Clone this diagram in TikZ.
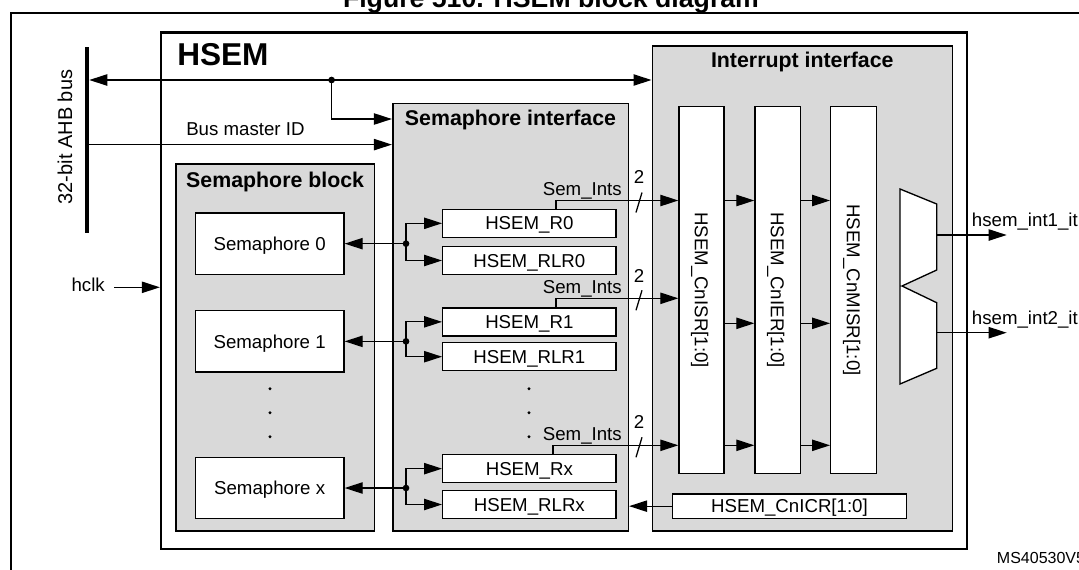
\documentclass[tikz,border=0pt]{standalone}
\usepackage{fontspec}
\setmainfont{Liberation Sans}
\usetikzlibrary{arrows.meta}
\definecolor{panel}{RGB}{217,217,217}
\begin{document}
\begin{tikzpicture}[x=0.75pt,y=-0.75pt,
  wh/.style 2 args={minimum width=#1*0.75pt,minimum height=#2*0.75pt},
  panelbox/.style={draw,line width=1.2pt,fill=panel,inner sep=0pt},
  regbox/.style={draw,line width=1pt,fill=white,inner sep=0pt,font=\fontsize{14}{16}\selectfont,text height=10pt,text depth=0pt},
  lbl/.style={inner sep=0pt,font=\fontsize{14}{16}\selectfont},
  hd/.style={inner sep=0pt,font=\bfseries\fontsize{16}{18}\selectfont,anchor=base},
  wire/.style={line width=0.95pt},
  arr/.style={wire,-{Triangle[length=13.5pt,width=8.5pt]}},
  darr/.style={wire,{Triangle[length=13.5pt,width=8.5pt]}-{Triangle[length=13.5pt,width=8.5pt]}},
  jdot/.style={fill,circle,inner sep=0pt,minimum size=5pt}
]
\useasboundingbox (0,0) rectangle (1079,569);
\clip (0,0) rectangle (1079,569);

% title and outer frame
\node[inner sep=0pt,anchor=base,font=\bfseries\fontsize{20}{24}\selectfont] (title) at (551,7.5) {Figure 510. HSEM block diagram};
\node[draw,line width=1.5pt,wh={1090}{600},anchor=north west,inner sep=0pt] (frame) at (9.5,11.5) {};

% HSEM block
\node[draw,line width=1.7pt,fill=white,wh={805.7}{516.5},inner sep=0pt] (hsem) at (563.85,290.75) {};
\node[anchor=base west,inner sep=0pt,font=\bfseries\fontsize{23.7}{28}\selectfont] (hsemlbl) at (177,65.4) {HSEM};

% AHB bus
\node[fill,inner sep=0pt,wh={4}{186}] (bus) at (87,140) {};
\node[lbl,rotate=90,font=\fontsize{15}{18}\selectfont] (buslbl) at (65,137) {32-bit AHB bus};

% panels
\node[panelbox,wh={198.3}{366.7}] (semblk) at (275.15,347.35) {};
\node[hd] (semblkl) at (275.15,187) {Semaphore block};
\node[panelbox,wh={235.6}{427.5}] (semif) at (510.5,317.25) {};
\node[hd] (semifl) at (510.5,125) {Semaphore interface};
\node[panelbox,wh={300}{484.7}] (intif) at (802.3,288.35) {};
\node[hd] (intifl) at (802.3,67.3) {Interrupt interface};

% semaphores
\node[regbox,wh={148.7}{61.3}] (s0) at (269.65,243.65) {Semaphore 0};
\node[regbox,wh={148.7}{61.3}] (s1) at (269.65,341.35) {Semaphore 1};
\node[regbox,wh={148.7}{61.3}] (sx) at (269.65,488) {Semaphore x};
\foreach \y in {388.7,412.7,436.7} {
  \fill (270,\y) circle[radius=1.2pt];
  \fill (529,\y) circle[radius=1.2pt];
}

% semaphore interface registers
\node[regbox,wh={173.3}{28}] (r0) at (529.35,223.3) {HSEM\_R0};
\node[regbox,wh={173.3}{28}] (rlr0) at (529.35,260.5) {HSEM\_RLR0};
\node[regbox,wh={173.3}{28}] (r1) at (529.35,321.85) {HSEM\_R1};
\node[regbox,wh={173.3}{28}] (rlr1) at (529.35,356.7) {HSEM\_RLR1};
\node[regbox,wh={173.3}{28}] (rx) at (529.35,468.65) {HSEM\_Rx};
\node[regbox,wh={173.3}{28}] (rlrx) at (529.35,504.5) {HSEM\_RLRx};

% interrupt registers
\node[regbox,wh={45}{366.6}] (isr) at (701.5,290) {};
\node[lbl,rotate=-90,text height=10pt,text depth=0pt] (isrl) at (isr.center) {HSEM\_CnISR[1:0]};
\node[regbox,wh={45.3}{366.6}] (ier) at (777.65,290) {};
\node[lbl,rotate=-90,text height=10pt,text depth=0pt] (ierl) at (ier.center) {HSEM\_CnIER[1:0]};
\node[regbox,wh={45.6}{366.6}] (misr) at (853.5,290) {};
\node[lbl,rotate=-90,text height=10pt,text depth=0pt] (misrl) at (misr.center) {HSEM\_CnMISR[1:0]};
\node[regbox,wh={234.4}{24.3}] (icr) at (789.5,506.15) {HSEM\_CnICR[1:0]};

% mux
\draw[line width=1pt,fill=white] (900,189) -- (936.7,204) -- (936.7,270) -- (902,286) -- (936.7,302.7) -- (936.7,368.3) -- (900,384) -- cycle;
\coordinate (o1) at (936.7,235);
\coordinate (o1e) at (1006.7,235);
\coordinate (o2) at (936.7,332.7);
\coordinate (o2e) at (1006.7,332.7);
\draw[arr] (o1) -- (o1e);
\draw[arr] (o2) -- (o2e);
\node[lbl,anchor=base west] (o1l) at (971.7,226.7) {hsem\_int1\_it};
\node[lbl,anchor=base west] (o2l) at (971.7,324) {hsem\_int2\_it};

% bus connections
\coordinate (b1) at (bus.east |- 0,80);
\draw[darr] (b1) -- (intif.west |- b1);
\coordinate (jt) at (331.6,80);
\node[jdot] (jtd) at (jt) {};
\draw[arr] (jt) |- (semif.west |- 0,119);
\coordinate (b2) at (bus.east |- 0,144.6);
\draw[arr] (b2) -- (semif.west |- b2);
\node[lbl,anchor=base west] (bmid) at (186,135) {Bus master ID};

% hclk
\node[lbl,anchor=base east] (hclk) at (105,291.7) {hclk};
\coordinate (hc) at (114,287.3);
\draw[arr] (hc) -- (hsem.west |- hc);

% semaphore to registers
\coordinate (j0) at (406,243.65);
\draw[arr] (j0) -- (s0.east);
\draw[arr] (j0) |- (r0.west);
\draw[arr] (j0) |- (rlr0.west);
\node[jdot] (j0d) at (j0) {};
\coordinate (j1) at (406,341.35);
\draw[arr] (j1) -- (s1.east);
\draw[arr] (j1) |- (r1.west);
\draw[arr] (j1) |- (rlr1.west);
\node[jdot] (j1d) at (j1) {};
\coordinate (jx) at (406,488);
\draw[arr] (jx) -- (sx.east);
\draw[arr] (jx) |- (rx.west);
\draw[arr] (jx) |- (rlrx.west);
\node[jdot] (jxd) at (jx) {};

% Sem_Ints
\coordinate (c0) at (556,200.5);
\draw[arr] (r0.north -| c0) -- (c0) -- (isr.west |- c0);
\node[lbl,anchor=base east] (si0) at (622,195) {Sem\_Ints};
\node[lbl,anchor=base] (n0) at (639,183) {2};
\draw[wire] (642,192.5) -- (636,212.5);

\coordinate (c1) at (556,298.3);
\draw[arr] (r1.north -| c1) -- (c1) -- (isr.west |- c1);
\node[lbl,anchor=base east] (si1) at (622,293) {Sem\_Ints};
\node[lbl,anchor=base] (n1) at (639,282) {2};
\draw[wire] (642,290.3) -- (636,310.3);

\coordinate (cx) at (553,445.3);
\draw[arr] (rx.north -| cx) -- (cx) -- (isr.west |- cx);
\node[lbl,anchor=base east] (six) at (622,440) {Sem\_Ints};
\node[lbl,anchor=base] (nx) at (639,428) {2};
\draw[wire] (642,437.3) -- (636,457.3);

% register chain
\foreach \y in {200.5,445.3} {
  \draw[arr] (isr.east |- 0,\y) -- (ier.west |- 0,\y);
  \draw[arr] (ier.east |- 0,\y) -- (misr.west |- 0,\y);
}
\draw[arr] (isr.east |- 0,323.3) -- (ier.west |- 0,323.3);
\draw[arr] (ier.east |- 0,323.3) -- (misr.west |- 0,323.3);

% clear register
\draw[arr] (icr.west) -- (semif.east |- icr.west);

\node[inner sep=0pt,anchor=base west,font=\fontsize{12}{14}\selectfont] (ms) at (996.7,563) {MS40530V5};
\end{tikzpicture}
\end{document}
